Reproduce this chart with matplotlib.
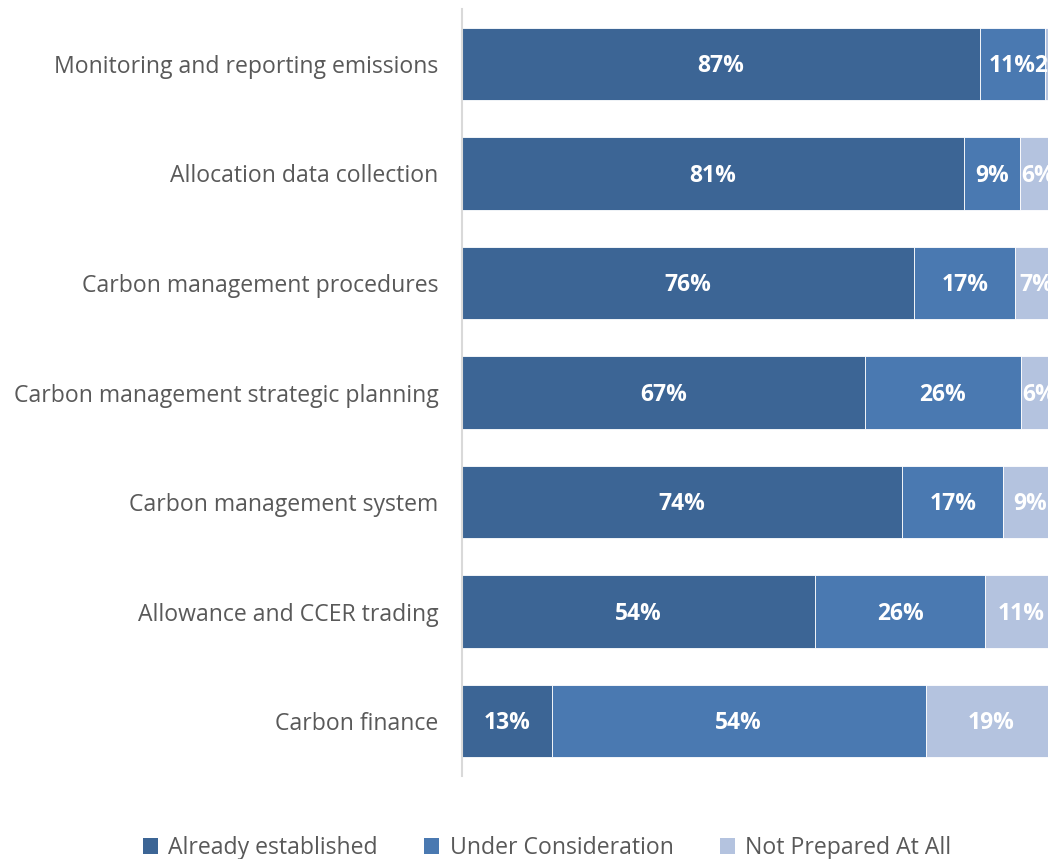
import matplotlib
matplotlib.use("Agg")
import matplotlib.pyplot as plt
from matplotlib.patches import Patch
import numpy as np

categories = [
    "Monitoring and reporting emissions",
    "Allocation data collection",
    "Carbon management procedures",
    "Carbon management strategic planning",
    "Carbon management system",
    "Allowance and CCER trading",
    "Carbon finance",
]
already = [87, 81, 76, 67, 74, 54, 13]
under = [11, 9, 17, 26, 17, 26, 54]
not_prepared = [2, 6, 7, 6, 9, 11, 19]
series_names = ["Already established", "Under Consideration", "Not Prepared At All"]
colors = ["#3C6595", "#4A79B1", "#B4C3DF"]

plt.rcParams['font.family'] = ['Open Sans', 'DejaVu Sans']

fig = plt.figure(figsize=(10.48, 8.59), dpi=100)
ax = fig.add_axes([462/1048, 1-776/859, 595/1048, (776-9)/859])

data = np.array([already, under, not_prepared], dtype=float)
totals = data.sum(axis=0)
shares = data / totals * 100
y = np.arange(len(categories))
left = np.zeros(len(categories))
for i in range(3):
    bars = ax.barh(y, shares[i], left=left, height=0.66, color=colors[i],
                   edgecolor="white", linewidth=0.6, label=series_names[i])
    for j in range(len(categories)):
        ax.text(left[j] + shares[i][j] / 2, y[j] + 0.02, f"{int(data[i][j])}%",
                ha="center", va="center", color="white", fontsize=16.5,
                fontweight="bold", clip_on=False)
    left += shares[i]

ax.set_xlim(0, 100)
ax.set_ylim(6.5, -0.5)
ax.set_yticks(y)
ax.set_yticklabels(categories, fontsize=16.6, color="#595959")
ax.tick_params(axis="y", length=0, pad=17)
ax.set_xticks([])
for s in ["top", "right", "bottom"]:
    ax.spines[s].set_visible(False)
ax.spines["left"].set_color("#D9D9D9")
ax.spines["left"].set_linewidth(1.5)

handles = [Patch(facecolor=c, edgecolor="none") for c in colors]
leg = fig.legend(handles, series_names, loc="center", bbox_to_anchor=(0.522, 1-848/859),
                 ncol=3, frameon=False, fontsize=16.6, handlelength=0.65, handleheight=0.65,
                 handletextpad=0.45, columnspacing=2.0)
for t in leg.get_texts():
    t.set_color("#595959")

fig.savefig("out.png", dpi=100)
